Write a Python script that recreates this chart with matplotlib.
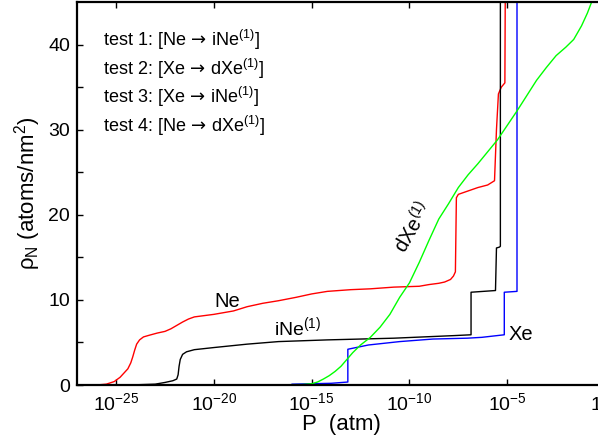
import numpy as np
import matplotlib
matplotlib.use("Agg")
import matplotlib.pyplot as plt
from matplotlib.ticker import FixedLocator, NullFormatter, FuncFormatter

plt.rcParams['font.family'] = ['Liberation Sans', 'DejaVu Sans']
plt.rcParams['mathtext.fontset'] = 'custom'
plt.rcParams['mathtext.rm'] = 'Liberation Sans'
plt.rcParams['mathtext.it'] = 'Liberation Sans:italic'
plt.rcParams['mathtext.bf'] = 'Liberation Sans:bold'
plt.rcParams['mathtext.sf'] = 'DejaVu Sans'

# ---- data (log10 P in atm, rho_N in atoms/nm^2) ----
ne_logp = [-26.0, -25.5, -25.1, -24.8, -24.6, -24.4, -24.25, -24.15, -24.05, -23.95, -23.8,
           -23.6, -23.3, -22.9, -22.5, -22.2, -21.9, -21.6, -21.3, -21.0, -20.5,
           -20.0, -19.0, -18.3, -17.5, -16.7, -15.8, -15.0, -14.2, -13.0, -12.0, -10.8,
           -9.5, -9.0, -8.5, -8.2, -7.9, -7.75, -7.65,
           -7.6, -7.5, -7.0, -6.5, -6.0, -5.65, -5.55, -5.45, -5.3, -5.12, -5.1]
ne_rho = [0.0, 0.1, 0.4, 0.9, 1.4, 1.9, 2.6, 3.3, 4.1, 4.8, 5.3,
          5.65, 5.85, 6.1, 6.3, 6.6, 7.0, 7.4, 7.75, 8.0, 8.15,
          8.3, 8.7, 9.2, 9.6, 9.9, 10.3, 10.7, 11.0, 11.2, 11.3, 11.5,
          11.6, 11.8, 11.95, 12.1, 12.4, 12.8, 13.3,
          22.0, 22.4, 22.8, 23.2, 23.5, 24.0, 30.0, 34.2, 35.0, 35.5, 46.0]

ine_logp = [-24.3, -23.0, -22.5, -22.1, -21.9, -21.83, -21.78, -21.72, -21.6, -21.4, -21.0,
            -20.0, -18.3, -16.7, -14.2, -10.8, -7.75, -6.85, -6.85, -5.6, -5.55, -5.4,
            -5.35, -5.35]
ine_rho = [0.0, 0.1, 0.3, 0.5, 0.7, 1.2, 2.2, 3.0, 3.6, 3.9, 4.15,
           4.4, 4.8, 5.1, 5.3, 5.5, 5.8, 5.9, 10.9, 11.1, 16.1, 16.2,
           16.3, 46.0]

xe_logp = [-16.0, -14.0, -13.15, -13.15, -12.1, -10.5, -8.8, -7.05, -6.3, -5.15, -5.15,
           -4.5, -4.5]
xe_rho = [0.1, 0.2, 0.35, 4.2, 4.7, 5.1, 5.4, 5.5, 5.6, 5.9, 10.9,
          11.0, 46.0]

dxe_logp = [-18.0, -15.5, -15.0, -14.7, -14.4, -14.1, -13.8, -13.5, -13.2, -12.9, -12.5,
            -12.0, -11.5, -11.0, -10.5, -10.0, -9.5, -9.0, -8.5, -8.0, -7.5, -7.0, -6.5,
            -6.0, -5.5, -5.0, -4.5, -4.0, -3.5, -3.0, -2.5, -2.0, -1.6, -1.2, -0.9, -0.6]
dxe_rho = [0.0, 0.05, 0.15, 0.35, 0.7, 1.1, 1.6, 2.2, 3.0, 3.8, 4.7,
           5.6, 6.8, 8.3, 10.3, 12.0, 14.4, 17.0, 19.5, 21.3, 23.2, 24.7, 26.0,
           27.4, 28.8, 30.5, 32.2, 34.0, 35.8, 37.3, 38.7, 39.7, 40.6, 42.2, 43.7, 45.5]

x_ticks = [1e-25, 1e-20, 1e-15, 1e-10, 1e-5, 1e0]
y_major = [0, 10, 20, 30, 40]
y_minor = [5, 15, 25, 35]

legend_lines = [r'test 1: [Ne$\,\mathsf{\rightarrow}\,$iNe$^{(1)}$]',
                r'test 2: [Xe$\,\mathsf{\rightarrow}\,$dXe$^{(1)}$]',
                r'test 3: [Xe$\,\mathsf{\rightarrow}\,$iNe$^{(1)}$]',
                r'test 4: [Ne$\,\mathsf{\rightarrow}\,$dXe$^{(1)}$]']

fig = plt.figure(figsize=(5.98, 4.47), dpi=100)
ax = fig.add_axes([77/598, 62/447, 528/598, 383/447])

def P(lp):
    return 10.0 ** np.asarray(lp)

ax.plot(P(ne_logp), ne_rho, color='#ff0000', lw=1.0)
ax.plot(P(ine_logp), ine_rho, color='black', lw=1.0)
ax.plot(P(xe_logp), xe_rho, color='#0000ff', lw=1.0)
ax.plot(P(dxe_logp), dxe_rho, color='#00ff00', lw=1.0)

ax.set_xscale('log')
ax.set_xlim(1e-27, 1e0)
ax.set_ylim(0, 45)

ax.xaxis.set_major_locator(FixedLocator(x_ticks))
ax.xaxis.set_minor_locator(FixedLocator([]))
ax.xaxis.set_major_formatter(FuncFormatter(lambda v, p: r'$10^{%d}$' % int(round(np.log10(v)))))
ax.yaxis.set_major_locator(FixedLocator(y_major))
ax.yaxis.set_minor_locator(FixedLocator(y_minor))
ax.yaxis.set_minor_formatter(NullFormatter())

ax.tick_params(which='both', direction='in', length=4.5, width=1.0,
               top=True, right=True, labelsize=14, pad=5)
for s in ax.spines.values():
    s.set_linewidth(1.6)

ax.set_xlabel('P  (atm)', fontsize=16, labelpad=0)
ax.set_ylabel(r'$\mathrm{\rho}_{\mathrm{N}}$ (atoms/nm$^2$)', fontsize=16, labelpad=4)

for i, t in enumerate(legend_lines):
    ax.text(P(-25.66), 39.8 - i * 3.35, t, fontsize=13, ha='left', va='baseline')

ax.text(P(-19.3), 9.2, 'Ne', fontsize=14.5, ha='center', va='baseline')
ax.text(P(-16.94), 5.9, r'iNe$^{(1)}$', fontsize=14, ha='left', va='baseline')
ax.text(P(-4.95), 5.3, 'Xe', fontsize=14.5, ha='left', va='baseline')
ax.text(P(-9.85), 18.5, r'dXe$^{\it{(1)}}$', fontsize=14.5, ha='center', va='center',
        rotation=60, rotation_mode='anchor')

fig.savefig('out.png', dpi=100)
